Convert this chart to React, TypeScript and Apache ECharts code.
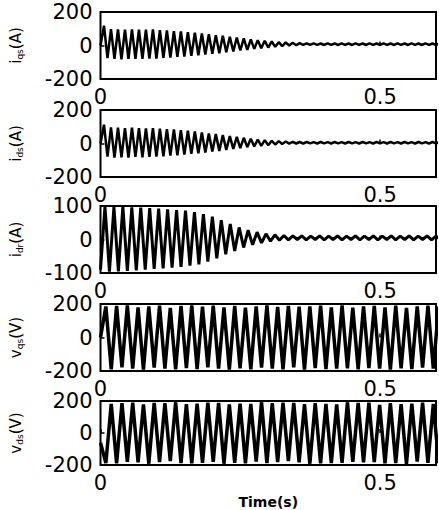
import React, { useEffect, useRef } from "react";
import * as echarts from "echarts";

// ---- data ----
const X_MIN = 0;
const X_MAX = 0.6;
const X_TICK_LABELS = ["0", "0.5"];
const TIME_LABEL = "Time(s)";

// sampling steps (s) of the digitised extremes
const STEP_IQS = 0.00625;
const STEP_IDS = 0.00625;
const STEP_IDR = 0.008;
const STEP_V = 0.0096;

const iqs = [
  0, 118, -75, 98, -80, 96, -82, 95, -80, 96,
  -79, 94, -80, 95, -78, 96, -78, 92, -74, 90,
  -72, 86, -68, 84, -66, 80, -62, 76, -58, 72,
  -54, 68, -50, 62, -46, 58, -40, 52, -36, 48,
  -30, 42, -26, 36, -20, 32, -16, 28, -12, 24,
  -8, 20, -4, 18, 0, 16, 2, 14, 3, 13,
  3, 13, 4, 12, 3, 13, 4, 12, 3, 13,
  4, 12, 3, 13, 4, 12, 3, 13, 4, 12,
  3, 13, 4, 12, 3, 13, 4, 12, 3, 13,
  4, 12, 3, 13, 4, 12, 3, 13,
];

const ids = [
  0, 112, -78, 96, -84, 94, -82, 92, -84, 94,
  -80, 92, -82, 90, -80, 92, -78, 88, -76, 86,
  -72, 84, -70, 80, -66, 76, -62, 72, -58, 66,
  -54, 60, -48, 56, -44, 50, -38, 44, -32, 40,
  -28, 34, -22, 28, -18, 24, -14, 20, -10, 16,
  -6, 14, -3, 12, -1, 10, 0, 9, 0, 9,
  1, 8, 0, 9, 1, 8, 0, 9, 1, 8,
  0, 9, 1, 8, 0, 9, 1, 8, 0, 9,
  1, 8, 0, 9, 1, 8, 0, 9, 1, 8,
  0, 9, 1, 8, 0, 9, 1, 8,
];

const idr = [
  -90, 98, -96, 97, -95, 98, -94, 96, -92, 95,
  -90, 94, -88, 92, -86, 90, -84, 88, -82, 86,
  -78, 82, -74, 76, -66, 68, -56, 58, -44, 46,
  -34, 36, -24, 28, -16, 22, -10, 17, -5, 14,
  -2, 12, -1, 11, 0, 11, -1, 10, 0, 11,
  -1, 10, 0, 11, -1, 10, 0, 11, -1, 10,
  0, 11, -1, 10, 0, 11, -1, 10, 0, 11,
  -1, 10, 0, 11, -1, 10, 0,
];

const vqs = [
  0, 185, -190, 188, -178, 192, -185, 180, -192, 186,
  -180, 190, -186, 176, -190, 188, -182, 192, -188, 184,
  -178, 190, -186, 180, -192, 188, -184, 178, -190, 186,
  -180, 192, -186, 182, -190, 188, -178, 184, -192, 186,
  -182, 190, -188, 180, -186, 192, -184, 178, -190, 186,
  -182, 188, -186, 180, -192, 190, -184, 176, -188, 186,
  -180, 190, -186, 184,
];

const vds = [
  -60, -188, 182, -190, 186, -180, 190, -184, 178, -192,
  188, -182, 186, -176, 192, -188, 180, -190, 184, -186,
  190, -180, 188, -192, 178, -186, 184, -190, 182, -178,
  192, -188, 186, -182, 190, -176, 188, -184, 180, -192,
  186, -190, 182, -188, 178, -186, 192, -180, 188, -184,
  190, -182, 176, -190, 186, -188, 180, -192, 184, -178,
  190, -186, 182, -188,
];

const Y_NAMES = [
  "{m|i}{s|qs}{m|(A)}",
  "{m|i}{s|ds}{m|(A)}",
  "{m|i}{s|dr}{m|(A)}",
  "{m|v}{s|qs}{m|(V)}",
  "{m|v}{s|ds}{m|(V)}",
];
const Y_LIMITS = [200, 200, 100, 200, 200];
const SERIES = [iqs, ids, idr, vqs, vds];
const STEPS = [STEP_IQS, STEP_IDS, STEP_IDR, STEP_V, STEP_V];
const WIDTHS = [2.5, 2.5, 3, 3.5, 3.5];

const toPoints = (vals: number[], step: number) =>
  vals.map((v, i) => [i * step, v]);

const FONT = "DejaVu Sans";

export default function App() {
  const ref = useRef<HTMLDivElement>(null);
  useEffect(() => {
    if (!ref.current) return;
    const chart = echarts.init(ref.current, undefined, { renderer: "svg" });
    const tops = [12, 110, 206, 304, 401];
    const h = 67;
    const option: any = {
      animation: false,
      backgroundColor: "#fff",
      grid: tops.map((top) => ({
        left: 96,
        right: 2,
        top,
        height: h,
        show: true,
        borderColor: "#000",
        borderWidth: 2,
        backgroundColor: "transparent",
      })),
      xAxis: tops.map((_, i) => ({
        type: "value",
        gridIndex: i,
        min: X_MIN,
        max: X_MAX,
        interval: 0.5,
        axisLine: { show: false },
        splitLine: { show: false },
        axisTick: { show: true, inside: true, length: 4, lineStyle: { color: "#000", width: 1.5 } },
        axisLabel: {
          margin: 7,
          fontSize: 21,
          fontFamily: FONT,
          color: "#000",
          formatter: (v: number) =>
            Math.abs(v) < 1e-9 ? X_TICK_LABELS[0] : Math.abs(v - 0.5) < 1e-9 ? X_TICK_LABELS[1] : "",
        },
        name: i === 4 ? TIME_LABEL : "",
        nameLocation: "middle",
        nameGap: 30,
        nameTextStyle: { fontFamily: FONT, fontSize: 14, fontWeight: "bold", color: "#000" },
      })),
      yAxis: tops.map((_, i) => ({
        type: "value",
        gridIndex: i,
        min: -Y_LIMITS[i],
        max: Y_LIMITS[i],
        interval: Y_LIMITS[i],
        axisLine: { show: false },
        splitLine: { show: false },
        axisTick: { show: true, inside: true, length: 4, lineStyle: { color: "#000", width: 1.5 } },
        axisLabel: { margin: 8, fontSize: 21, fontFamily: FONT, color: "#000" },
        name: Y_NAMES[i],
        nameLocation: "middle",
        nameGap: 76,
        nameTextStyle: {
          color: "#000",
          rich: {
            m: { fontFamily: FONT, fontSize: 15, color: "#000", lineHeight: 18 },
            s: { fontFamily: FONT, fontSize: 9, color: "#000", lineHeight: 10, verticalAlign: "bottom" },
          },
        },
      })),
      series: SERIES.map((vals, i) => ({
        type: "line",
        xAxisIndex: i,
        yAxisIndex: i,
        showSymbol: false,
        clip: true,
        lineStyle: { color: "#000", width: WIDTHS[i] },
        data: toPoints(vals, STEPS[i]),
      })),
    };
    chart.setOption(option);
    return () => chart.dispose();
  }, []);
  return (
    <div
      ref={ref}
      style={{ position: "absolute", left: 0, top: 0, width: 439, height: 510 }}
    />
  );
}
